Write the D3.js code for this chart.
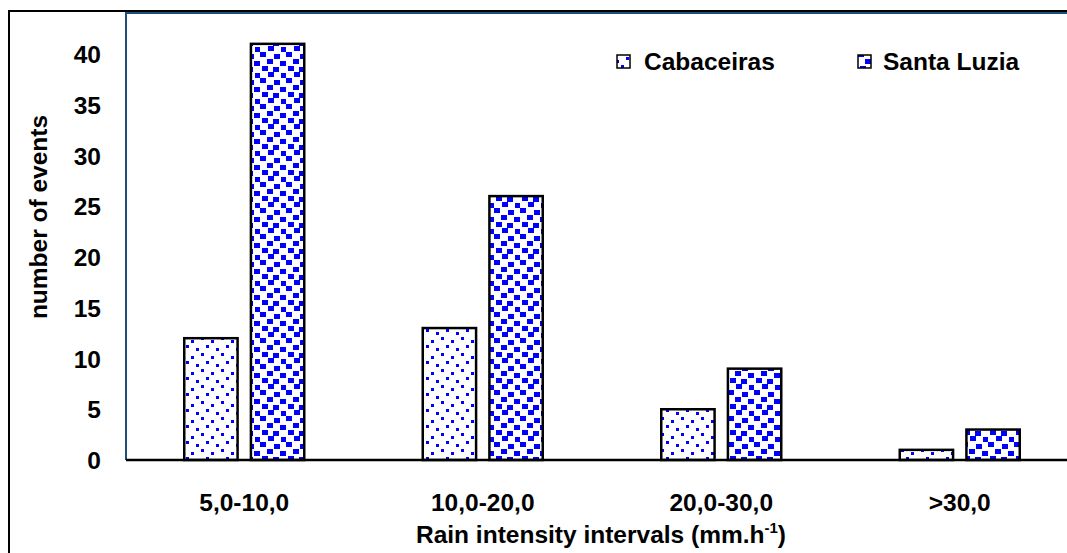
<!DOCTYPE html>
<html><head><meta charset="utf-8">
<script src="https://cdn.jsdelivr.net/npm/d3@7"></script>
<style>html,body{margin:0;padding:0;background:#fff;}svg{display:block;}</style>
</head><body>
<svg id="chart" width="1067" height="553"></svg>
<script>
const categories = ["5,0-10,0", "10,0-20,0", "20,0-30,0", ">30,0"];
const seriesNames = ["Cabaceiras", "Santa Luzia"];
const cabaceiras = [12, 13, 5, 1];
const santaLuzia = [41, 26, 9, 3];
const yTicks = [0, 5, 10, 15, 20, 25, 30, 35, 40];

const svg = d3.select("#chart");
const font = "'Liberation Sans', Arial, sans-serif";
const fs = 24.5;
const W = 1067, H = 553;
const plotLeft = 126, baseY = 460;

const x = d3.scaleBand().domain(categories).range([125, 1079]).padding(0);
const xs = d3.scaleBand().domain(seriesNames).range([-60, 60]).paddingInner(0.2);
const y = d3.scaleLinear().domain([0, 40]).range([baseY, 54]);

// patterns
const defs = svg.append("defs");
const pSmall = defs.append("pattern").attr("id", "pSmall").attr("patternUnits", "userSpaceOnUse")
  .attr("width", 20).attr("height", 16);
pSmall.append("rect").attr("width", 20).attr("height", 16).attr("fill", "#fff");
[[1,1],[11,4],[6,9],[16,12]].forEach(([a,b]) =>
  pSmall.append("rect").attr("x", a).attr("y", b).attr("width", 3).attr("height", 3).attr("fill", "#0000ff"));
const pLarge = defs.append("pattern").attr("id", "pLarge").attr("patternUnits", "userSpaceOnUse")
  .attr("width", 26).attr("height", 26);
pLarge.append("rect").attr("width", 26).attr("height", 26).attr("fill", "#fff");
[[0,0],[14,2],[7,7],[20,9],[2,14],[13,15],[8,20],[21,21]].forEach(([a,b]) =>
  pLarge.append("rect").attr("x", a).attr("y", b).attr("width", 6).attr("height", 5).attr("fill", "#0000ff"));

// outer frame
svg.append("path").attr("d", `M9,${H+5} L9,11 L${W+5},11`).attr("fill", "none")
  .attr("stroke", "#000").attr("stroke-width", 2);
// plot area left / top lines
svg.append("path").attr("d", `M${plotLeft},${baseY} L${plotLeft},13 L${W+5},13`).attr("fill", "none")
  .attr("stroke", "#1f4e79").attr("stroke-width", 2);

// bars
const data = [];
categories.forEach((c, i) => {
  data.push({c, s: "Cabaceiras", v: cabaceiras[i], fill: "url(#pSmall)"});
  data.push({c, s: "Santa Luzia", v: santaLuzia[i], fill: "url(#pLarge)"});
});
svg.append("g").selectAll("rect").data(data).join("rect")
  .attr("x", d => x(d.c) + x.bandwidth() / 2 + xs(d.s))
  .attr("y", d => y(d.v))
  .attr("width", xs.bandwidth())
  .attr("height", d => baseY - y(d.v))
  .attr("fill", d => d.fill)
  .attr("stroke", "#000").attr("stroke-width", 2.5);

// baseline
svg.append("line").attr("x1", plotLeft).attr("x2", W + 5).attr("y1", baseY).attr("y2", baseY)
  .attr("stroke", "#000").attr("stroke-width", 2.5);

// y axis labels
const yAxis = d3.axisLeft(y).tickValues(yTicks).tickSize(0).tickPadding(0).tickFormat(d3.format("d"));
const gy = svg.append("g").attr("transform", "translate(101,0)").call(yAxis);
gy.select(".domain").remove();
gy.selectAll("text").attr("font-family", font).attr("font-weight", "bold").attr("font-size", fs)
  .attr("fill", "#000").attr("dy", "0.35em");

// x axis labels
const xAxis = d3.axisBottom(x).tickSize(0).tickPadding(0);
const gx = svg.append("g").attr("transform", "translate(0,493)").call(xAxis);
gx.select(".domain").remove();
gx.selectAll("text").attr("font-family", font).attr("font-weight", "bold").attr("font-size", fs)
  .attr("fill", "#000").attr("dy", "0.75em");

// axis titles
const xt = svg.append("text").attr("x", 601).attr("y", 543).attr("text-anchor", "middle")
  .attr("font-family", font).attr("font-weight", "bold").attr("font-size", fs).attr("fill", "#000");
xt.append("tspan").text("Rain intensity intervals (mm.h");
xt.append("tspan").attr("font-size", 15).attr("dy", -10).text("-1");
xt.append("tspan").attr("dy", 10).text(")");

svg.append("text").attr("transform", "translate(47,217) rotate(-90)").attr("text-anchor", "middle")
  .attr("font-family", font).attr("font-weight", "bold").attr("font-size", fs).attr("fill", "#000")
  .text("number of events");

// legend
const legend = [{name: seriesNames[0], fill: "url(#pSmall)", sx: 617, tx: 644},
                {name: seriesNames[1], fill: "url(#pLarge)", sx: 858, tx: 883}];
const lg = svg.append("g").selectAll("g").data(legend).join("g");
lg.append("rect").attr("x", d => d.sx).attr("y", 55).attr("width", 13).attr("height", 13)
  .attr("fill", d => d.fill).attr("stroke", "#000").attr("stroke-width", 1.5);
lg.append("text").attr("x", d => d.tx).attr("y", 70)
  .attr("font-family", font).attr("font-weight", "bold").attr("font-size", fs).attr("fill", "#000")
  .text(d => d.name);
</script>
</body></html>
